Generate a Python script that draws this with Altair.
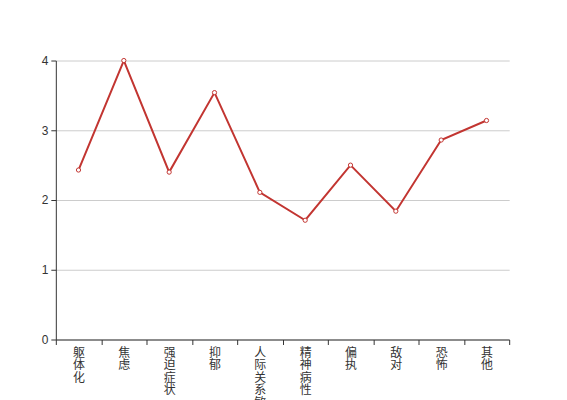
import altair as alt
import pandas as pd

categories = ["躯体化", "焦虑", "强迫症状", "抑郁", "人际关系敏感", "精神病性", "偏执", "敌对", "恐怖", "其他"]
values = [2.43, 4.00, 2.40, 3.54, 2.11, 1.71, 2.50, 1.84, 2.86, 3.14]

df = pd.DataFrame({"cat": categories, "val": values})

font = "Liberation Sans, Noto Sans CJK SC, sans-serif"
x = alt.X("cat:N", sort=categories, title=None,
          scale=alt.Scale(paddingInner=0, paddingOuter=0),
          axis=alt.Axis(labelAngle=0, labelExpr="split(datum.label, '')",
                        labelLineHeight=12.5, labelFontSize=12, labelColor="#333",
                        labelFont=font, labelBaseline="top", labelPadding=3,
                        tickBand="extent", tickSize=5, tickColor="#333",
                        domainColor="#333", grid=False))
y = alt.Y("val:Q", title=None,
          scale=alt.Scale(domain=[0, 4], nice=False),
          axis=alt.Axis(values=[0, 1, 2, 3, 4], labelFontSize=12, labelColor="#333",
                        labelFont=font, tickSize=5, tickColor="#333", domainColor="#333",
                        gridColor="#ccc", labelPadding=3))

line = alt.Chart(df).mark_line(color="#c23531", strokeWidth=2).encode(x=x, y=y)
pts = alt.Chart(df).mark_point(shape="circle", filled=True, fill="white", stroke="#c23531",
                               strokeWidth=1, size=18, opacity=1).encode(x=x, y=y)

chart = (line + pts).properties(
    width=455, height=280,
    autosize=alt.AutoSizeParams(type="none"),
    padding={"left": 48, "top": 52, "right": 50, "bottom": 60},
).configure_view(stroke=None)

chart.save("out.html", embed_options={"renderer": "svg", "actions": False})
